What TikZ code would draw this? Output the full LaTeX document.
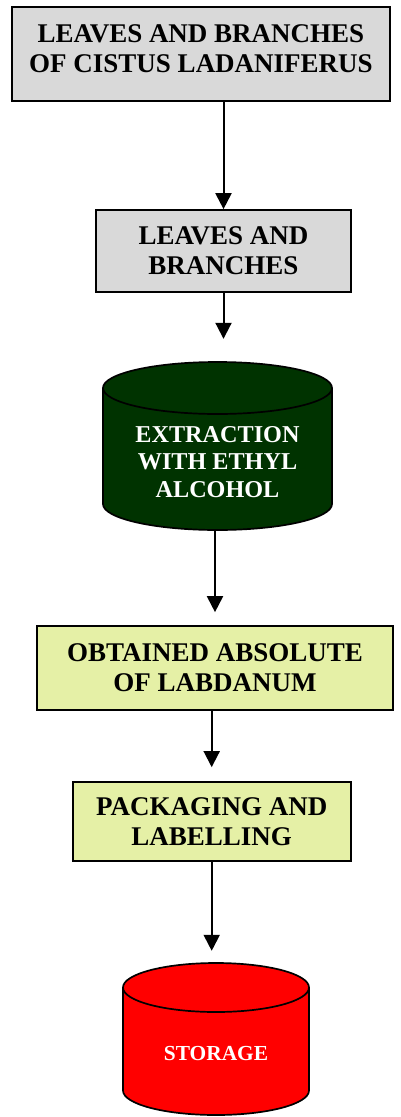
\documentclass[tikz,border=0pt]{standalone}
\usepackage{fontspec}
\setmainfont{Liberation Serif}
\usetikzlibrary{arrows.meta,calc}
\definecolor{boxgray}{RGB}{217,217,217}
\definecolor{boxyellow}{RGB}{229,240,166}
\definecolor{tankgreen}{RGB}{0,51,0}

\begin{document}
\begin{tikzpicture}[x=1pt,y=-1pt]

	\tikzstyle{stage}=[draw=black,line width=1.7pt,align=center,
		font=\fontsize{27}{30}\selectfont\bfseries,inner sep=0pt]
	\tikzstyle{tank}=[align=center,text=white,inner sep=0pt]
	\tikzstyle{tankwall}=[draw=black,line width=1.7pt]
	\tikzstyle{flow}=[line width=2pt,-{Triangle[width=16pt,length=16pt]}]

	\useasboundingbox (0,0) rectangle (401,1117);

	\node[stage,fill=boxgray,minimum width=378pt,minimum height=94pt,
		text depth=11pt]	(raw)	at (201,54)
		{LEAVES AND BRANCHES\\OF CISTUS LADANIFERUS};
	\node[stage,fill=boxgray,minimum width=255pt,minimum height=82pt]
		(leaves)	at (223.5,251)	{LEAVES AND\\BRANCHES};

	% extraction tank
	\filldraw[tankwall,fill=tankgreen]
		($(217.5,446)+(-114.5,-58)$) -- ($(217.5,446)+(-114.5,58)$)
		arc[start angle=180,end angle=360,x radius=114.5pt,y radius=26pt]
		-- ($(217.5,446)+(114.5,-58)$)
		arc[start angle=0,end angle=180,x radius=114.5pt,y radius=26pt]
		-- cycle;
	\draw[tankwall] ($(217.5,446)+(-114.5,-58)$)
		arc[start angle=180,end angle=360,x radius=114.5pt,y radius=26pt];
	\node[tank,minimum width=229pt,minimum height=168pt,text height=103pt,
		font=\fontsize{24.2}{27.5}\selectfont\bfseries]
		(extract)	at (217.5,446)	{EXTRACTION\\WITH ETHYL\\ALCOHOL};

	\node[stage,fill=boxyellow,minimum width=356pt,minimum height=84pt]
		(absolute)	at (215,668)	{OBTAINED ABSOLUTE\\OF LABDANUM};
	\node[stage,fill=boxyellow,minimum width=278pt,minimum height=79pt]
		(pack)	at (211.7,821.5)	{PACKAGING AND\\LABELLING};

	% storage tank
	\filldraw[tankwall,fill=red]
		($(216,1039)+(-93,-51.5)$) -- ($(216,1039)+(-93,51.5)$)
		arc[start angle=180,end angle=360,x radius=93pt,y radius=24.5pt]
		-- ($(216,1039)+(93,-51.5)$)
		arc[start angle=0,end angle=180,x radius=93pt,y radius=24.5pt]
		-- cycle;
	\draw[tankwall] ($(216,1039)+(-93,-51.5)$)
		arc[start angle=180,end angle=360,x radius=93pt,y radius=24.5pt];
	\node[tank,minimum width=186pt,minimum height=152pt,text height=42.5pt,
		font=\fontsize{21.4}{25}\selectfont\bfseries]
		(store)	at (216,1039)	{STORAGE};

	\draw[flow] (leaves.north |- raw.south) -- (leaves.north);
	\draw[flow,shorten >=23pt] (leaves.south) -- (leaves.south |- extract.north);
	\draw[flow,shorten >=13pt] (absolute.north |- extract.south) -- (absolute.north);
	\draw[flow,shorten >=14pt] (pack.north |- absolute.south) -- (pack.north);
	\draw[flow,shorten >=12pt] (pack.south) -- (pack.south |- store.north);

\end{tikzpicture}
\end{document}
